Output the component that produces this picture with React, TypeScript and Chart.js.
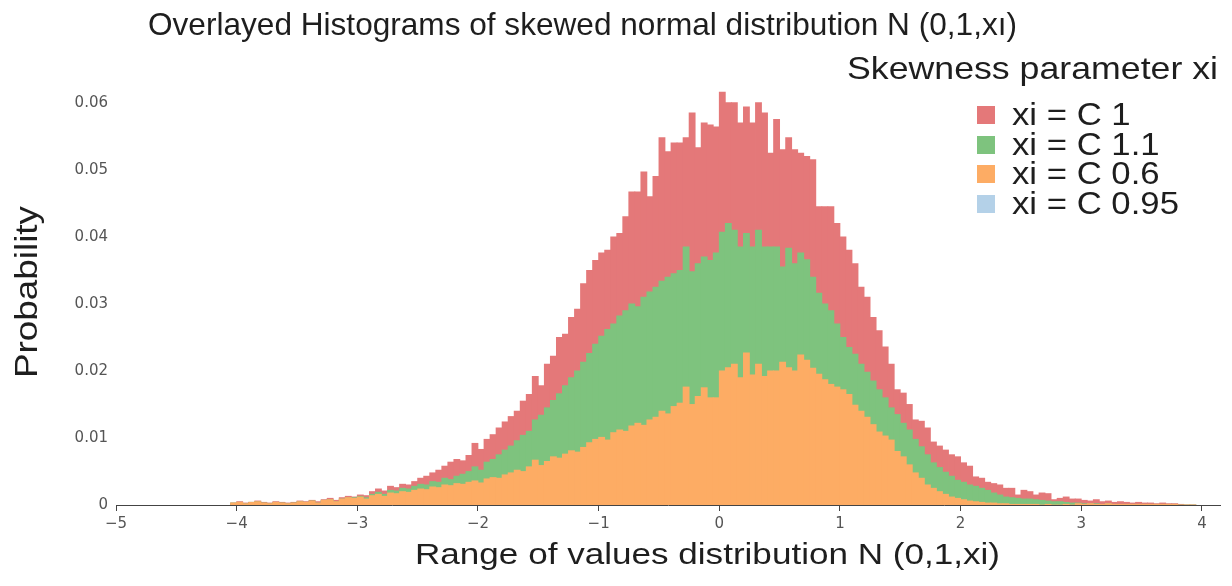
import React, { useEffect, useRef } from "react";
import { Chart, registerables } from "chart.js";

Chart.register(...registerables);

// ---- data (probability per 0.05-wide bin) ----
const binStart = -4.05;
const binWidth = 0.05;
const xTickValues = [-5, -4, -3, -2, -1, 0, 1, 2, 3, 4];
const yTickValues = [0, 0.01, 0.02, 0.03, 0.04, 0.05, 0.06];

const seriesLabels = ["xi = C 1", "xi = C 1.1", "xi = C 0.6", "xi = C 0.95"];
const seriesColors = ["#e47879", "#7ec37e", "#fdac64", "#b4d1e8"];

// visible top of the red histogram (xi = C 1)
const redTop = [
  0.0003, 0.0005, 0.0003, 0.0004, 0.0006, 0.0004, 0.0003, 0.0005, 0.0004, 0.0003,
  0.0004, 0.0006, 0.0005, 0.0007, 0.0005, 0.0008, 0.001, 0.0007, 0.0011, 0.0013,
  0.0012, 0.0015, 0.0014, 0.002, 0.0024, 0.0021, 0.0028, 0.0026, 0.0031, 0.003,
  0.0035, 0.004, 0.0043, 0.0048, 0.0052, 0.0058, 0.0064, 0.0068, 0.0066, 0.0074,
  0.0092, 0.0083, 0.0098, 0.0105, 0.0115, 0.0124, 0.0132, 0.014, 0.0155, 0.0165,
  0.0192, 0.0178, 0.021, 0.0222, 0.025, 0.0255, 0.028, 0.0292, 0.033, 0.035,
  0.0365, 0.0376, 0.038, 0.04, 0.0405, 0.043, 0.0467, 0.0467, 0.0497, 0.046,
  0.049, 0.0548, 0.0527, 0.054, 0.054, 0.0548, 0.0585, 0.0533, 0.057, 0.0567,
  0.0564, 0.0616, 0.06, 0.06, 0.057, 0.0594, 0.057, 0.06, 0.0585, 0.0525,
  0.0575, 0.053, 0.0548, 0.053, 0.0525, 0.052, 0.0515, 0.0445, 0.0445, 0.0445,
  0.042, 0.04, 0.038, 0.036, 0.0325, 0.031, 0.028, 0.026, 0.0236, 0.021,
  0.0172, 0.0167, 0.015, 0.0127, 0.0125, 0.0115, 0.0094, 0.0088, 0.0082, 0.0075,
  0.0072, 0.0063, 0.0058, 0.0042, 0.004, 0.0034, 0.0032, 0.003, 0.0025, 0.0025,
  0.0015, 0.0022, 0.002, 0.0015, 0.0018, 0.0017, 0.0008, 0.001, 0.0012, 0.0009,
  0.0009, 0.0007, 0.0006, 0.0008, 0.0005, 0.0006, 0.0004, 0.0005, 0.0004, 0.0003,
  0.0004, 0.0003, 0.0003, 0.0002, 0.0003, 0.0002, 0.0002, 0.0001, 0, 0,
];

// visible top of the green histogram (xi = C 1.1)
const greenTop = [
  0.0003, 0.0004, 0.0002, 0.0004, 0.0005, 0.0003, 0.0002, 0.0004, 0.0003, 0.0002,
  0.0003, 0.0005, 0.0004, 0.0006, 0.0003, 0.0007, 0.0008, 0.0005, 0.0009, 0.0011,
  0.0011, 0.0013, 0.0011, 0.0016, 0.0019, 0.0016, 0.0022, 0.0021, 0.0025, 0.0024,
  0.0028, 0.0031, 0.003, 0.0035, 0.0034, 0.004, 0.0038, 0.0043, 0.0046, 0.005,
  0.0057, 0.0052, 0.0064, 0.0068, 0.0075, 0.0082, 0.0088, 0.0096, 0.0104, 0.011,
  0.0127, 0.0134, 0.0145, 0.0156, 0.0166, 0.0178, 0.019, 0.02, 0.0213, 0.0226,
  0.024, 0.0252, 0.0262, 0.027, 0.0282, 0.029, 0.03, 0.0296, 0.031, 0.0318,
  0.0325, 0.0334, 0.034, 0.0345, 0.035, 0.0385, 0.0348, 0.036, 0.037, 0.0365,
  0.0376, 0.0407, 0.042, 0.041, 0.0385, 0.0405, 0.0385, 0.041, 0.0385, 0.0385,
  0.0385, 0.0355, 0.0383, 0.036, 0.0376, 0.0366, 0.034, 0.0316, 0.03, 0.029,
  0.027, 0.025, 0.0235, 0.0225, 0.021, 0.0198, 0.0185, 0.0172, 0.016, 0.0145,
  0.0135, 0.0122, 0.0112, 0.0098, 0.0087, 0.0075, 0.0063, 0.0056, 0.0049, 0.0043,
  0.0037, 0.0034, 0.003, 0.0028, 0.0025, 0.0022, 0.0018, 0.0015, 0.0012, 0.0011,
  0.001, 0.0009, 0.0009, 0.0008, 0.0007, 0.0006, 0.0005, 0.0005, 0.0004, 0.0003,
  0.0003, 0.0002, 0.0002, 0.0002, 0.0001, 0.0002, 0.0001, 0.0001, 0.0001, 0.0001,
  0.0001, 0.0001, 0.0001, 0.0001, 0.0001, 0.0001, 0.0001, 0, 0, 0,
];

// visible top of the orange histogram (xi = C 0.6)
const orangeTop = [
  0.0003, 0.0004, 0.0002, 0.0004, 0.0005, 0.0003, 0.0002, 0.0004, 0.0003, 0.0002,
  0.0003, 0.0005, 0.0004, 0.0006, 0.0003, 0.0007, 0.0008, 0.0005, 0.0009, 0.0011,
  0.001, 0.0012, 0.0009, 0.0014, 0.0016, 0.0013, 0.0018, 0.0017, 0.002, 0.0019,
  0.0022, 0.0024, 0.0023, 0.0027, 0.0026, 0.003, 0.0029, 0.0032, 0.0031, 0.0034,
  0.0036, 0.0033, 0.0039, 0.0041, 0.004, 0.0045, 0.0048, 0.0052, 0.005, 0.0057,
  0.0067, 0.0059, 0.0065, 0.0072, 0.007, 0.0076, 0.0081, 0.0079, 0.0086, 0.0093,
  0.0098, 0.0101, 0.0097, 0.0108, 0.0112, 0.011, 0.0118, 0.0122, 0.0119, 0.0127,
  0.0131, 0.014, 0.0136, 0.0147, 0.0152, 0.0176, 0.015, 0.0162, 0.0175, 0.016,
  0.016, 0.02, 0.0205, 0.021, 0.019, 0.0227, 0.0194, 0.021, 0.0192, 0.02,
  0.02, 0.0213, 0.0205, 0.02, 0.0224, 0.0216, 0.0204, 0.0195, 0.0187, 0.018,
  0.0176, 0.0172, 0.0165, 0.0149, 0.014, 0.0131, 0.012, 0.0109, 0.0103, 0.0097,
  0.008, 0.0072, 0.006, 0.0048, 0.004, 0.003, 0.0025, 0.002, 0.0016, 0.0012,
  0.001, 0.0008, 0.0006, 0.0005, 0.0004, 0.0003, 0.0003, 0.0002, 0.0002, 0.0001,
  0.0001, 0.0001, 0.0001, 0.0001, 0, 0.0001, 0, 0, 0.0001, 0,
  0.0002, 0.0001, 0.0002, 0.0001, 0.0001, 0.0002, 0.0001, 0.0001, 0.0001, 0.0001,
  0.0001, 0.0001, 0.0001, 0.0001, 0.0001, 0.0001, 0.0001, 0, 0, 0,
];

// the light-blue series is not visible above the others
const blueTop: number[] = [];

const binCenters = redTop.map((_, i) => +(binStart + binWidth * (i + 0.5)).toFixed(3));

const titleText = "Overlayed Histograms of skewed normal distribution N (0,1,x\u0131)";
const legendTitleText = "Skewness parameter xi";
const xTitleText = "Range of values distribution N (0,1,xi)";
const yTitleText = "Probability";

const TEXT_FONT = "'Liberation Sans', Arial, sans-serif";
const TICK_FONT = "DejaVu Sans";

function drawFitted(
  ctx: CanvasRenderingContext2D,
  text: string,
  x: number,
  y: number,
  size: number,
  width: number | null,
  scaleX: number,
  align: CanvasTextAlign,
  rotate = 0
) {
  ctx.save();
  ctx.font = `${size}px ${TEXT_FONT}`;
  const w = ctx.measureText(text).width;
  const s = width ? width / w : scaleX;
  ctx.translate(x, y);
  if (rotate) ctx.rotate(rotate);
  ctx.scale(s, 1);
  ctx.textAlign = align;
  ctx.textBaseline = "alphabetic";
  ctx.fillStyle = "#1e1e1e";
  ctx.fillText(text, 0, 0);
  ctx.restore();
}

const textPlugin = {
  id: "freeTexts",
  afterDraw(chart: any) {
    const ctx: CanvasRenderingContext2D = chart.ctx;
    drawFitted(ctx, titleText, 148, 35, 32, 869, 1, "left");
    drawFitted(ctx, legendTitleText, 847, 79, 32, 371, 1, "left");
    drawFitted(ctx, xTitleText, 415, 564, 30, 585, 1, "left");
    drawFitted(ctx, yTitleText, 37, 292, 32, 172, 1, "center", -Math.PI / 2);
    const baselines = [125, 155, 184, 214];
    seriesLabels.forEach((label, i) => {
      ctx.save();
      ctx.fillStyle = seriesColors[i];
      ctx.fillRect(977, baselines[i] - 19, 18, 18);
      ctx.restore();
      drawFitted(ctx, label, 1012, baselines[i], 31, null, 1.12, "left");
    });
  },
};

export default function App() {
  const canvasRef = useRef<HTMLCanvasElement | null>(null);

  useEffect(() => {
    document.body.style.margin = "0";
    const canvas = canvasRef.current;
    if (!canvas) return;
    const tops = [redTop, greenTop, orangeTop, blueTop];
    const orders = [3, 2, 1, 0];
    const chart = new Chart(canvas, {
      type: "bar",
      data: {
        datasets: tops.map((vals, k) => ({
          label: seriesLabels[k],
          data: vals.map((v, i) => ({ x: binCenters[i], y: v })),
          backgroundColor: seriesColors[k],
          borderWidth: 0,
          grouped: false,
          order: orders[k],
          barPercentage: 1,
          categoryPercentage: 1,
          inflateAmount: 0.4,
        })) as any,
      },
      options: {
        responsive: false,
        animation: false,
        layout: { padding: { top: 86, right: 12, bottom: 0, left: 0 } },
        plugins: {
          legend: { display: false },
          title: { display: false },
          tooltip: { enabled: false },
        },
        scales: {
          x: {
            type: "linear",
            min: -5,
            max: 4.15,
            offset: false,
            afterBuildTicks: (s: any) => {
              s.ticks = xTickValues.map((v) => ({ value: v }));
            },
            afterFit: (s: any) => {
              s.height = 81;
            },
            grid: {
              display: true,
              offset: false,
              drawOnChartArea: false,
              drawTicks: true,
              tickLength: 6,
              color: "#444",
              lineWidth: 1,
            },
            border: { display: true, color: "#444", width: 1 },
            ticks: {
              font: { family: TICK_FONT, size: 15 },
              color: "#555",
              padding: 4,
              maxRotation: 0,
              autoSkip: false,
              callback: (v: any) => String(v).replace("-", "\u2212"),
            },
          },
          y: {
            min: 0,
            max: 0.0625,
            afterBuildTicks: (s: any) => {
              s.ticks = yTickValues.map((v) => ({ value: v }));
            },
            afterFit: (s: any) => {
              s.width = 116;
            },
            grid: { display: false, drawTicks: false },
            border: { display: false },
            ticks: {
              font: { family: TICK_FONT, size: 15 },
              color: "#555",
              padding: 8,
              callback: (v: any) => (v === 0 ? "0" : Number(v).toFixed(2)),
            },
          },
        },
      } as any,
      plugins: [textPlugin],
    });
    return () => chart.destroy();
  }, []);

  return (
    <canvas
      ref={canvasRef}
      width={1232}
      height={586}
      style={{ display: "block", width: 1232, height: 586 }}
    />
  );
}
